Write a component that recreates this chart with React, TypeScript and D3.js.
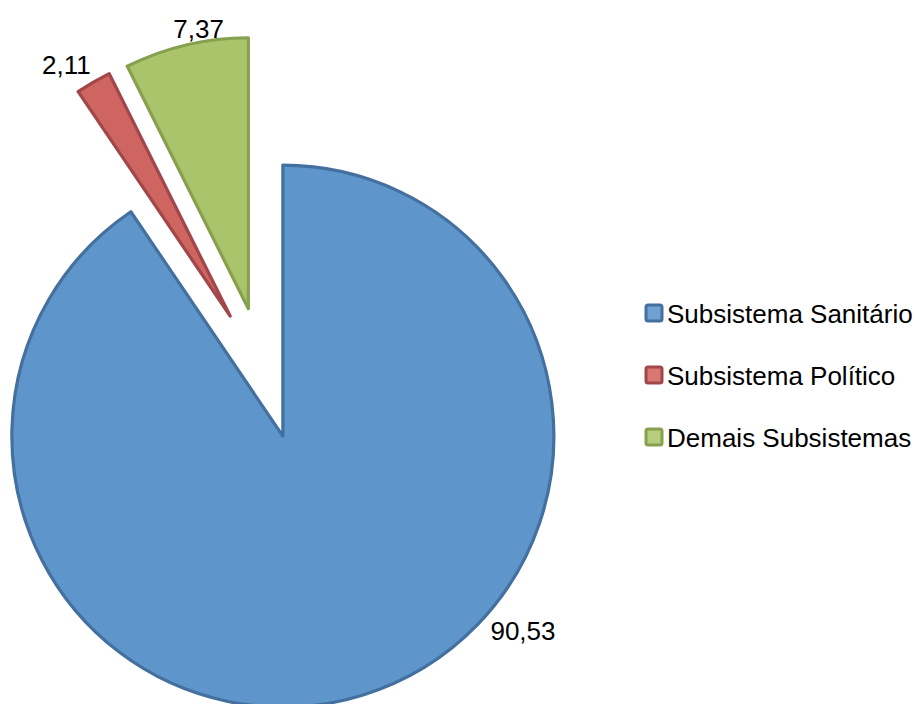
import React from "react";
import * as d3 from "d3";

const categories = ["Subsistema Sanitário", "Subsistema Político", "Demais Subsistemas"];
const values = [90.53, 2.11, 7.37];
const valueLabels = ["90,53", "2,11", "7,37"];

const fills = ["#5E95CA", "#CF6560", "#A9C46A"];
const strokes = ["#44709F", "#A1474A", "#86A04F"];
const innerFills = ["#6FA1D2", "#D97772", "#B5CD7D"];

const W = 919;
const H = 704;
const cx = 263.5;
const cy = 373;
const R = 271;
const explode = 66;
// label placement: [angle (deg, clockwise from top), distance from slice vertex]
const labelPolar: [number, number][] = [
  [129, 309],
  [-33.1, 300],
  [-10.1, 284],
];

export default function App() {
  const pie = d3.pie<number>().sort(null).startAngle(0).endAngle(2 * Math.PI);
  const arcs = pie(values);
  const arcGen = d3.arc<d3.PieArcDatum<number>>().innerRadius(0).outerRadius(R);

  return (
    <svg
      width={W}
      height={H}
      style={{ position: "absolute", left: 0, top: 0, background: "#fff" }}
      fontFamily="'Liberation Sans', Arial, sans-serif"
    >
      {arcs.map((a, i) => {
        const mid = (a.startAngle + a.endAngle) / 2;
        const ox = cx + explode * Math.sin(mid);
        const oy = cy - explode * Math.cos(mid);
        const [ang, dist] = labelPolar[i];
        const rad = (ang * Math.PI) / 180;
        const lx = ox + dist * Math.sin(rad);
        const ly = oy - dist * Math.cos(rad);
        return (
          <g key={i}>
            <path
              d={arcGen(a) as string}
              transform={`translate(${ox},${oy})`}
              fill={fills[i]}
              stroke={strokes[i]}
              strokeWidth={3.2}
              strokeLinejoin="round"
            />
            <text
              x={lx}
              y={ly + 9}
              textAnchor="middle"
              fontSize={26}
              fill="#000"
            >
              {valueLabels[i]}
            </text>
          </g>
        );
      })}
      {categories.map((c, i) => {
        const y = 313 + i * 62;
        return (
          <g key={c}>
            <rect x={646} y={y - 8} width={16} height={16} rx={2} fill={innerFills[i]} stroke={strokes[i]} strokeWidth={3} />
            <text x={667} y={y + 9.5} fontSize={26} fill="#000">
              {c}
            </text>
          </g>
        );
      })}
    </svg>
  );
}
